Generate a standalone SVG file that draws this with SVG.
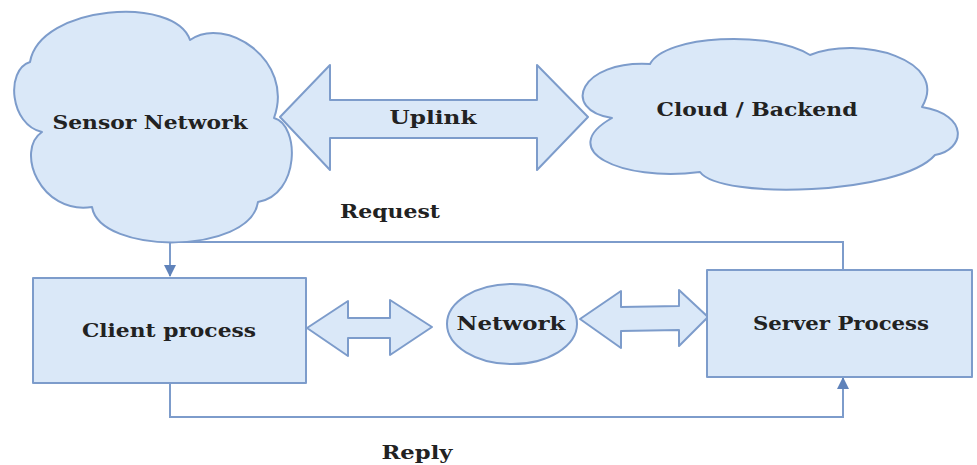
<svg xmlns="http://www.w3.org/2000/svg" width="977" height="465" viewBox="0 0 977 465">
  <defs>
    <style>
      .shape { fill: #dae8f8; stroke: #7d9ccb; stroke-width: 2; stroke-linejoin: round; }
      .wire { fill: none; stroke: #7d9ccb; stroke-width: 2; }
      .label { font-family: "DejaVu Serif", "Liberation Serif", serif; font-weight: bold; font-size: 18px; fill: #222; text-anchor: middle; }
    </style>
    <marker id="tip" viewBox="0 0 12 12" refX="11" refY="6" markerWidth="12" markerHeight="12" markerUnits="userSpaceOnUse" orient="auto">
      <path d="M0,0 L12,6 L0,12 Z" fill="#5f82ba"/>
    </marker>
  </defs>

  <rect width="977" height="465" fill="#ffffff"/>

  <!-- connectors -->
  <g id="connectors">
    <path class="wire" d="M170,242 H843 V270"/>
    <path class="wire" d="M170,242 V276" marker-end="url(#tip)"/>
    <path class="wire" d="M170,383 V417 H843 V378" marker-end="url(#tip)"/>
    <text class="label" x="390" y="218" textLength="100" lengthAdjust="spacingAndGlyphs">Request</text>
    <text class="label" x="417" y="459" textLength="71" lengthAdjust="spacingAndGlyphs">Reply</text>
  </g>

  <!-- sensor network cloud -->
  <g id="sensor-network">
    <path class="shape" d="M30,62 C40,5 175,-5 190,40 C225,15 295,60 274,118 C300,125 300,195 258,202 C250,255 100,255 92,207 C40,215 15,150 42,132 C10,125 5,70 30,62 Z"/>
    <text class="label" x="150" y="129" textLength="195" lengthAdjust="spacingAndGlyphs">Sensor Network</text>
  </g>

  <!-- uplink double arrow -->
  <g id="uplink">
    <path class="shape" d="M280,117 L330,65 L330,100 L537,100 L537,65 L588,117 L537,170 L537,138 L330,138 L330,170 Z"/>
    <text class="label" x="433" y="124" textLength="87" lengthAdjust="spacingAndGlyphs">Uplink</text>
  </g>

  <!-- backend cloud -->
  <g id="cloud-backend">
    <path class="shape" d="M612,118 C560,110 580,60 650,64 C665,35 770,30 810,55 C860,35 950,60 922,107 C970,115 965,150 935,155 C900,195 720,200 700,172 C620,182 555,150 612,118 Z"/>
    <text class="label" x="757" y="116" textLength="201" lengthAdjust="spacingAndGlyphs">Cloud / Backend</text>
  </g>

  <!-- client process -->
  <g id="client-process">
    <rect class="shape" x="33" y="278" width="273" height="105"/>
    <text class="label" x="169" y="337" textLength="174" lengthAdjust="spacingAndGlyphs">Client process</text>
  </g>

  <!-- client to network link -->
  <g id="client-network-link">
    <path class="shape" d="M307,328 L348,301 L348,318 L390,318 L390,300 L432,327 L390,355 L390,338 L348,338 L348,356 Z"/>
  </g>

  <!-- network -->
  <g id="network">
    <ellipse class="shape" cx="512" cy="324" rx="65" ry="40"/>
    <text class="label" x="511" y="330" textLength="109" lengthAdjust="spacingAndGlyphs">Network</text>
  </g>

  <!-- network to server link -->
  <g id="network-server-link">
    <path class="shape" d="M580,319 L621,291 L621,307 L679,306 L679,290 L708,317 L679,346 L679,330 L621,331 L621,348 Z"/>
  </g>

  <!-- server process -->
  <g id="server-process">
    <rect class="shape" x="707" y="270" width="265" height="107"/>
    <text class="label" x="841" y="330" textLength="176" lengthAdjust="spacingAndGlyphs">Server Process</text>
  </g>
</svg>
